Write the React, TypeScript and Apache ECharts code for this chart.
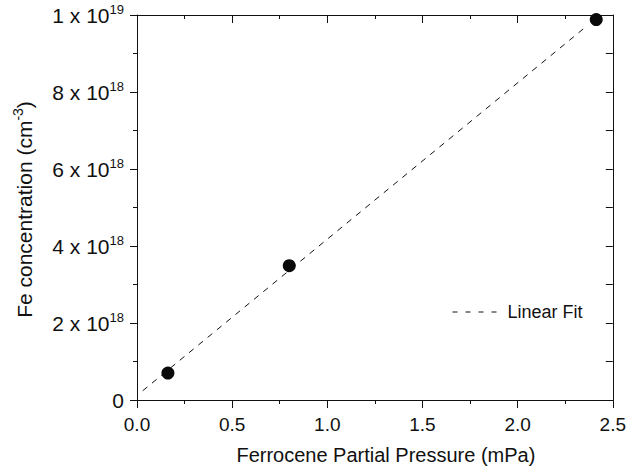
import React, { useEffect, useRef } from "react";
import * as echarts from "echarts";

// Data
const pressure = [0.1625, 0.8, 2.413]; // mPa
const feConc = [0.7e18, 3.49e18, 9.88e18]; // cm^-3
const fitX = [0.03, 2.36];
const fitY = [0.24e18, 9.70e18];
const xTicks = [0, 0.5, 1.0, 1.5, 2.0, 2.5];
const yTicks = [0, 2e18, 4e18, 6e18, 8e18, 1e19];
const seriesNames = ["Data", "Linear Fit"];

const FONT = "'Liberation Sans', Arial, Helvetica, sans-serif";
const INK = "#111111";

function yLabel(v: number): string {
  if (v === 0) return "{b|0}";
  const exp = Math.floor(Math.log10(v) + 1e-9);
  const m = Math.round(v / Math.pow(10, exp));
  return `{b|${m} x 10}{s|${exp}}`;
}

export default function App() {
  const ref = useRef<HTMLDivElement>(null);
  useEffect(() => {
    if (!ref.current) return;
    const chart = echarts.init(ref.current, undefined, { renderer: "svg" });
    const axisLine = { show: true, onZero: false, lineStyle: { color: INK, width: 1 } };
    const rich = {
      b: { fontSize: 21, fontFamily: FONT, color: INK },
      s: { fontSize: 13, fontFamily: FONT, color: INK, padding: [0, 0, 12, 0] },
    };
    const richTitle = {
      b: { fontSize: 21, fontFamily: FONT, color: INK },
      s: { fontSize: 14, fontFamily: FONT, color: INK, padding: [0, 0, 12, 0] },
    };
    chart.setOption({
      animation: false,
      backgroundColor: "#ffffff",
      textStyle: { fontFamily: FONT, color: INK },
      grid: { left: 137, right: 15, top: 15, bottom: 70, containLabel: false },
      legend: {
        data: [seriesNames[1]],
        left: 447,
        top: 298,
        itemWidth: 47,
        itemHeight: 14,
        itemGap: 10,
        itemStyle: { opacity: 0 },
        lineStyle: { type: [5, 8], width: 1, color: INK },
        textStyle: { fontSize: 18, fontFamily: FONT, color: INK, padding: [0, 0, 0, 3] },
      },
      xAxis: [
        {
          type: "value",
          min: xTicks[0],
          max: xTicks[xTicks.length - 1],
          interval: 0.5,
          position: "bottom",
          name: "Ferrocene Partial Pressure (mPa)",
          nameLocation: "middle",
          nameGap: 45,
          nameTextStyle: { fontSize: 20, fontFamily: FONT, color: INK, padding: [0, 0, 0, 22] },
          axisLine,
          axisTick: { show: true, inside: false, length: 8, lineStyle: { color: INK } },
          minorTick: { show: true, splitNumber: 2, length: 4, lineStyle: { color: INK } },
          splitLine: { show: false },
          axisLabel: {
            fontSize: 19,
            fontFamily: FONT,
            color: INK,
            margin: 15,
            formatter: (v: number) => v.toFixed(1),
          },
        },
        {
          type: "value",
          min: xTicks[0],
          max: xTicks[xTicks.length - 1],
          interval: 0.5,
          position: "top",
          axisLine,
          axisTick: { show: true, inside: true, length: 8, lineStyle: { color: INK } },
          minorTick: { show: true, splitNumber: 2, length: 4, lineStyle: { color: INK } },
          splitLine: { show: false },
          axisLabel: { show: false },
        },
      ],
      yAxis: [
        {
          type: "value",
          min: yTicks[0],
          max: yTicks[yTicks.length - 1],
          interval: 2e18,
          position: "left",
          name: "{b|Fe concentration (cm}{s|-3}{b|)}",
          nameLocation: "middle",
          nameGap: 100,
          nameTextStyle: { rich: richTitle, padding: [0, 4, 0, 0] },
          axisLine,
          axisTick: { show: true, inside: false, length: 7, lineStyle: { color: INK } },
          minorTick: { show: true, splitNumber: 2, length: 4, lineStyle: { color: INK } },
          splitLine: { show: false },
          axisLabel: {
            margin: 13,
            formatter: (v: number) => yLabel(v),
            rich,
          },
        },
        {
          type: "value",
          min: yTicks[0],
          max: yTicks[yTicks.length - 1],
          interval: 2e18,
          position: "right",
          axisLine,
          axisTick: { show: true, inside: true, length: 7, lineStyle: { color: INK } },
          minorTick: { show: true, splitNumber: 2, length: 7, lineStyle: { color: INK } },
          splitLine: { show: false },
          axisLabel: { show: false },
        },
      ],
      series: [
        {
          name: seriesNames[1],
          type: "line",
          xAxisIndex: 0,
          yAxisIndex: 0,
          data: fitX.map((x, i) => [x, fitY[i]]),
          symbol: "none",
          showSymbol: false,
          lineStyle: { color: INK, width: 1, type: [6, 6] },
          itemStyle: { color: INK },
          z: 2,
        },
        {
          name: seriesNames[0],
          type: "scatter",
          xAxisIndex: 0,
          yAxisIndex: 0,
          data: pressure.map((x, i) => [x, feConc[i]]),
          symbol: "circle",
          symbolSize: 13,
          itemStyle: { color: "#0a0a0a", opacity: 1 },
          z: 3,
        },
      ],
    });
    return () => chart.dispose();
  }, []);
  return (
    <div
      ref={ref}
      style={{ position: "absolute", left: 0, top: 0, width: 629, height: 470 }}
    />
  );
}
